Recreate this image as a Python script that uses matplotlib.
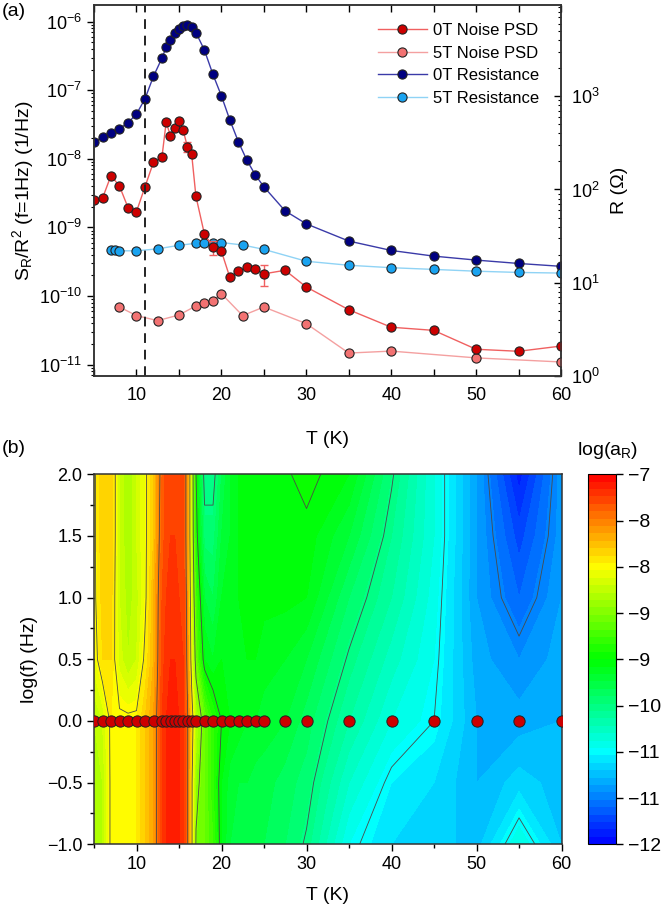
import numpy as np
import matplotlib
matplotlib.use('Agg')
import matplotlib.pyplot as plt
from matplotlib.colors import LinearSegmentedColormap
from matplotlib.ticker import LogLocator, MultipleLocator, NullFormatter
from matplotlib.lines import Line2D

plt.rcParams['font.family'] = ['Liberation Sans', 'DejaVu Sans']
plt.rcParams['mathtext.default'] = 'regular'

# ---------------- data (panel a) ----------------
T0 = [5, 6, 7, 8, 9, 10, 11, 12, 13, 13.5, 14, 14.5, 15, 15.5, 16, 16.5, 17, 18, 19, 20,
      21, 22, 23, 24, 25, 27.5, 30, 35, 40, 45, 50, 55, 60]
noise_0T = [2.5e-9, 2.67e-9, 5.7e-9, 4.0e-9, 1.95e-9, 1.7e-9, 3.9e-9, 8.9e-9, 1.06e-8, 3.45e-8,
            2.15e-8, 2.8e-8, 3.6e-8, 2.6e-8, 1.5e-8, 1.17e-8, 2.85e-9, 8.0e-10, 5.2e-10, 4.5e-10,
            1.86e-10, 2.3e-10, 2.65e-10, 2.45e-10, 2.1e-10, 2.37e-10, 1.35e-10, 6.3e-11, 3.5e-11,
            3.15e-11, 1.67e-11, 1.56e-11, 1.86e-11]
noise_0T_err = [0, 0, 0, 0, 0, 0, 0, 0, 0, 0, 0, 0, 0, 0, 2.5e-9, 0, 0, 0, 1.2e-10, 0,
                0, 0, 0, 0, 7e-11, 0, 0, 0, 0, 0, 0, 0, 0]
R_0T = [325, 363, 405, 450, 519, 644, 937, 1634, 2559, 3344, 4044, 4777, 5320, 5690, 5790, 5510,
        4820, 3126, 1718, 1010, 555, 325, 206, 143, 107, 59, 42.8, 28, 22.2, 19.3, 17.5, 16.1, 15.0]

T5R = [7, 7.5, 8, 10, 12.5, 15, 17, 18, 19, 20, 22.5, 25, 30, 35, 40, 45, 50, 55, 60]
R_5T = [22.4, 22.4, 22.0, 22.0, 23.1, 25.2, 26.5, 27.0, 27.0, 27.0, 25.4, 22.8, 17.0, 15.4,
        14.5, 13.9, 13.3, 12.9, 12.7]

T5N = [8, 10, 12.5, 15, 17, 18, 19, 20, 22.5, 25, 30, 35, 40, 50, 60]
noise_5T = [6.9e-11, 5.17e-11, 4.37e-11, 5.28e-11, 7.15e-11, 8.0e-11, 8.57e-11, 1.08e-10,
            5.17e-11, 6.9e-11, 3.95e-11, 1.47e-11, 1.57e-11, 1.25e-11, 1.09e-11]

T_mark = 11

# ---------------- data (panel b) ----------------
logf_map = [-1.0, -0.5, 0.0, 0.5, 1.0, 1.5, 2.0]
Z_m1p0 = [-8.7, -8.6, -8.2, -8.2, -8.2, -8.2, -8.0, -7.8, -7.3, -7.2, -7.15, -7.15, -7.2, -7.25, -7.6, -8.2,
          -8.9, -9.0, -9.2, -9.6, -9.8, -9.85, -9.9, -9.9, -9.9, -10.0, -10.15, -10.7, -10.9, -10.95, -11.05, -10.6, -11.0]
Z_m0p5 = [-8.7, -8.6, -8.2, -8.2, -8.2, -8.2, -8.0, -7.8, -7.3, -7.2, -7.15, -7.15, -7.2, -7.25, -7.6, -8.2,
          -8.8, -9.0, -9.3, -9.6, -9.75, -9.8, -9.8, -9.85, -9.85, -9.95, -10.05, -10.5, -10.8, -10.9, -11.1, -10.95, -11.05]
Z_0p0 = [-8.6, -8.5, -8.2, -8.2, -8.2, -8.2, -8.0, -7.8, -7.3, -7.2, -7.15, -7.15, -7.2, -7.25, -7.6, -8.1,
         -8.6, -9.0, -9.3, -9.5, -9.6, -9.65, -9.7, -9.7, -9.75, -9.8, -9.95, -10.3, -10.6, -10.75, -11.1, -11.15, -11.1]
Z_0p5 = [-8.35, -8.1, -8.1, -8.45, -8.6, -8.5, -8.2, -7.9, -7.35, -7.25, -7.2, -7.2, -7.25, -7.3, -7.7, -8.4,
         -9.0, -9.6, -9.7, -9.6, -9.6, -9.6, -9.6, -9.6, -9.65, -9.7, -9.8, -10.15, -10.45, -10.7, -11.15, -11.3, -11.15]
Z_1p0 = [-8.3, -8.05, -8.05, -8.5, -8.65, -8.55, -8.3, -7.9, -7.4, -7.3, -7.25, -7.25, -7.3, -7.3, -7.75, -8.5,
         -9.2, -9.8, -9.9, -9.7, -9.6, -9.6, -9.57, -9.57, -9.57, -9.57, -9.6, -10.0, -10.3, -10.65, -11.2, -11.5, -11.2]
Z_1p5 = [-8.3, -8.0, -8.0, -8.5, -8.7, -8.5, -8.3, -8.0, -7.45, -7.35, -7.3, -7.3, -7.3, -7.35, -7.8, -8.6,
         -9.4, -10.05, -10.05, -9.8, -9.7, -9.6, -9.56, -9.56, -9.56, -9.55, -9.54, -9.8, -10.2, -10.6, -11.2, -11.65, -11.25]
Z_2p0 = [-8.3, -8.0, -8.0, -8.5, -8.7, -8.5, -8.3, -8.0, -7.5, -7.35, -7.3, -7.35, -7.3, -7.35, -7.8, -8.6,
         -9.5, -10.2, -10.2, -9.9, -9.7, -9.6, -9.55, -9.55, -9.55, -9.52, -9.45, -9.6, -10.1, -10.6, -11.2, -11.85, -11.25]

cb_ticks = [-7, -7.625, -8.25, -8.875, -9.5, -10.125, -10.75, -11.375, -12]
cb_labels = ['\u22127', '\u22128', '\u22128', '\u22129', '\u22129', '\u221210', '\u221211', '\u221211', '\u221212']

# ---------------- figure ----------------
fig = plt.figure(figsize=(6.64, 9.14), dpi=100)
FS = 13

ax1 = fig.add_axes([0.1416, 0.5886, 0.7033, 0.4059])
ax1r = ax1.twinx()
ax1.set_zorder(ax1r.get_zorder() + 1)
ax1.patch.set_visible(False)

c_n0, c_n0l = '#cc0000', '#f06060'
c_n5, c_n5l = '#f27272', '#f4a0a0'
c_r0, c_r0l = '#000080', '#3a3aa8'
c_r5, c_r5l = '#1aa3f0', '#8fd3f5'
ms = 6.6
mec = '#222222'

ax1r.plot(T0, R_0T, '-', color=c_r0l, lw=1.0, marker='o', ms=ms, mfc=c_r0, mec=mec, mew=0.8)
ax1r.plot(T5R, R_5T, '-', color=c_r5l, lw=1.0, marker='o', ms=ms, mfc=c_r5, mec=mec, mew=0.8)
ax1r.set_yscale('log')
ax1r.set_ylim(1, 9.5e3)

ax1.errorbar(T0, noise_0T, yerr=noise_0T_err, fmt='none', ecolor=c_n0l, elinewidth=1.0, capsize=3)
ax1.plot(T5N, noise_5T, '-', color=c_n5l, lw=1.0, marker='o', ms=ms, mfc=c_n5, mec=mec, mew=0.8)
ax1.plot(T0, noise_0T, '-', color=c_n0l, lw=1.0, marker='o', ms=ms, mfc=c_n0, mec=mec, mew=0.8)
ax1.axvline(T_mark, color='#222222', ls=(0, (5, 3.5)), lw=1.4)
ax1.set_yscale('log')
ax1.set_ylim(6.8e-12, 1.75e-6)
ax1.set_xlim(5, 60)
ax1.xaxis.set_major_locator(MultipleLocator(10))
ax1.xaxis.set_minor_locator(MultipleLocator(5))
ax1.yaxis.set_major_locator(LogLocator(base=10, numticks=20))
ax1.yaxis.set_minor_locator(LogLocator(base=10, subs=np.arange(2, 10), numticks=20))
ax1.yaxis.set_minor_formatter(NullFormatter())
ax1r.yaxis.set_major_locator(LogLocator(base=10, numticks=20))
ax1r.yaxis.set_minor_locator(LogLocator(base=10, subs=np.arange(2, 10), numticks=20))
ax1r.yaxis.set_minor_formatter(NullFormatter())

ax1.tick_params(axis='x', which='both', direction='in', top=True, labelsize=FS, length=5, width=1, pad=8)
ax1.tick_params(axis='y', which='major', direction='out', labelsize=FS, length=5, width=1)
ax1.tick_params(axis='y', which='minor', direction='out', length=2.5, width=0.8)
ax1r.tick_params(axis='y', which='major', direction='in', labelsize=FS, length=5, width=1, pad=7)
ax1r.tick_params(axis='y', which='minor', direction='in', length=2.5, width=0.8)
for a in (ax1, ax1r):
    for s in a.spines.values():
        s.set_linewidth(1.1)
        s.set_color('#333333')

ax1.set_xlabel('T (K)', fontsize=14, labelpad=19)
ax1.set_ylabel(r'$S_R/R^2$ (f=1Hz) (1/Hz)', fontsize=14, labelpad=2)
ax1r.set_ylabel('R (\u03a9)', fontsize=14, labelpad=8)

handles = [
    Line2D([], [], color=c_n0l, lw=1.0, marker='o', ms=ms, mfc=c_n0, mec=mec, mew=0.8),
    Line2D([], [], color=c_n5l, lw=1.0, marker='o', ms=ms, mfc=c_n5, mec=mec, mew=0.8),
    Line2D([], [], color=c_r0l, lw=1.0, marker='o', ms=ms, mfc=c_r0, mec=mec, mew=0.8),
    Line2D([], [], color=c_r5l, lw=1.0, marker='o', ms=ms, mfc=c_r5, mec=mec, mew=0.8),
]
labels = ['0T Noise PSD', '5T Noise PSD', '0T Resistance', '5T Resistance']
ax1.legend(handles, labels, loc='upper right', bbox_to_anchor=(0.975, 0.978), frameon=False,
           fontsize=12, handlelength=2.9, labelspacing=0.45, handletextpad=0.4, borderaxespad=0.2)

# ---------------- panel b ----------------
ax2 = fig.add_axes([0.1416, 0.0763, 0.7041, 0.4048])
cmap = LinearSegmentedColormap.from_list(
    'rainbow_o', [(0.0, '#0000ff'), (0.25, '#00ffff'), (0.5, '#00ff00'), (0.75, '#ffff00'), (1.0, '#ff0000')])
Z = np.array([Z_m1p0, Z_m0p5, Z_0p0, Z_0p5, Z_1p0, Z_1p5, Z_2p0])
TT, FF = np.meshgrid(T0, logf_map)
fill_levels = np.linspace(-12, -7, 51)
line_levels = np.linspace(-12, -7, 9)
cf = ax2.contourf(TT, FF, Z, levels=fill_levels, cmap=cmap, vmin=-12, vmax=-7)
ax2.contour(TT, FF, Z, levels=line_levels, colors='#4a4a4a', linewidths=0.6, linestyles='solid')
ax2.scatter(T0, np.zeros(len(T0)), s=66, c=c_n0, edgecolors=mec, linewidths=0.7, zorder=5)
ax2.set_xlim(5, 60)
ax2.set_ylim(-1, 2)
ax2.xaxis.set_major_locator(MultipleLocator(10))
ax2.xaxis.set_minor_locator(MultipleLocator(5))
ax2.yaxis.set_major_locator(MultipleLocator(0.5))
ax2.yaxis.set_minor_locator(MultipleLocator(0.25))
ax2.tick_params(which='both', direction='out', labelsize=FS, width=1)
ax2.tick_params(which='major', length=5)
ax2.tick_params(which='minor', length=3)
for s in ax2.spines.values():
    s.set_linewidth(1.1)
    s.set_color('#333333')
ax2.set_xlabel('T (K)', fontsize=14, labelpad=10)
ax2.set_ylabel('log(f) (Hz)', fontsize=14, labelpad=6)

cax = fig.add_axes([0.886, 0.0763, 0.0413, 0.4048])
cb = fig.colorbar(cf, cax=cax, ticks=cb_ticks)
cb.set_ticklabels(cb_labels)
cb.ax.tick_params(labelsize=FS + 1, length=5, width=1, direction='out')
cb.outline.set_linewidth(0.8)
cb.ax.minorticks_off()
fig.text(0.9157, 1 - 455 / 914, r'log(a$_R$)', ha='center', va='baseline', fontsize=14)

fig.text(0.003, 0.997, '(a)', ha='left', va='top', fontsize=14)
fig.text(0.003, 1 - 440 / 914, '(b)', ha='left', va='top', fontsize=14)

fig.savefig('out.png', dpi=100)
